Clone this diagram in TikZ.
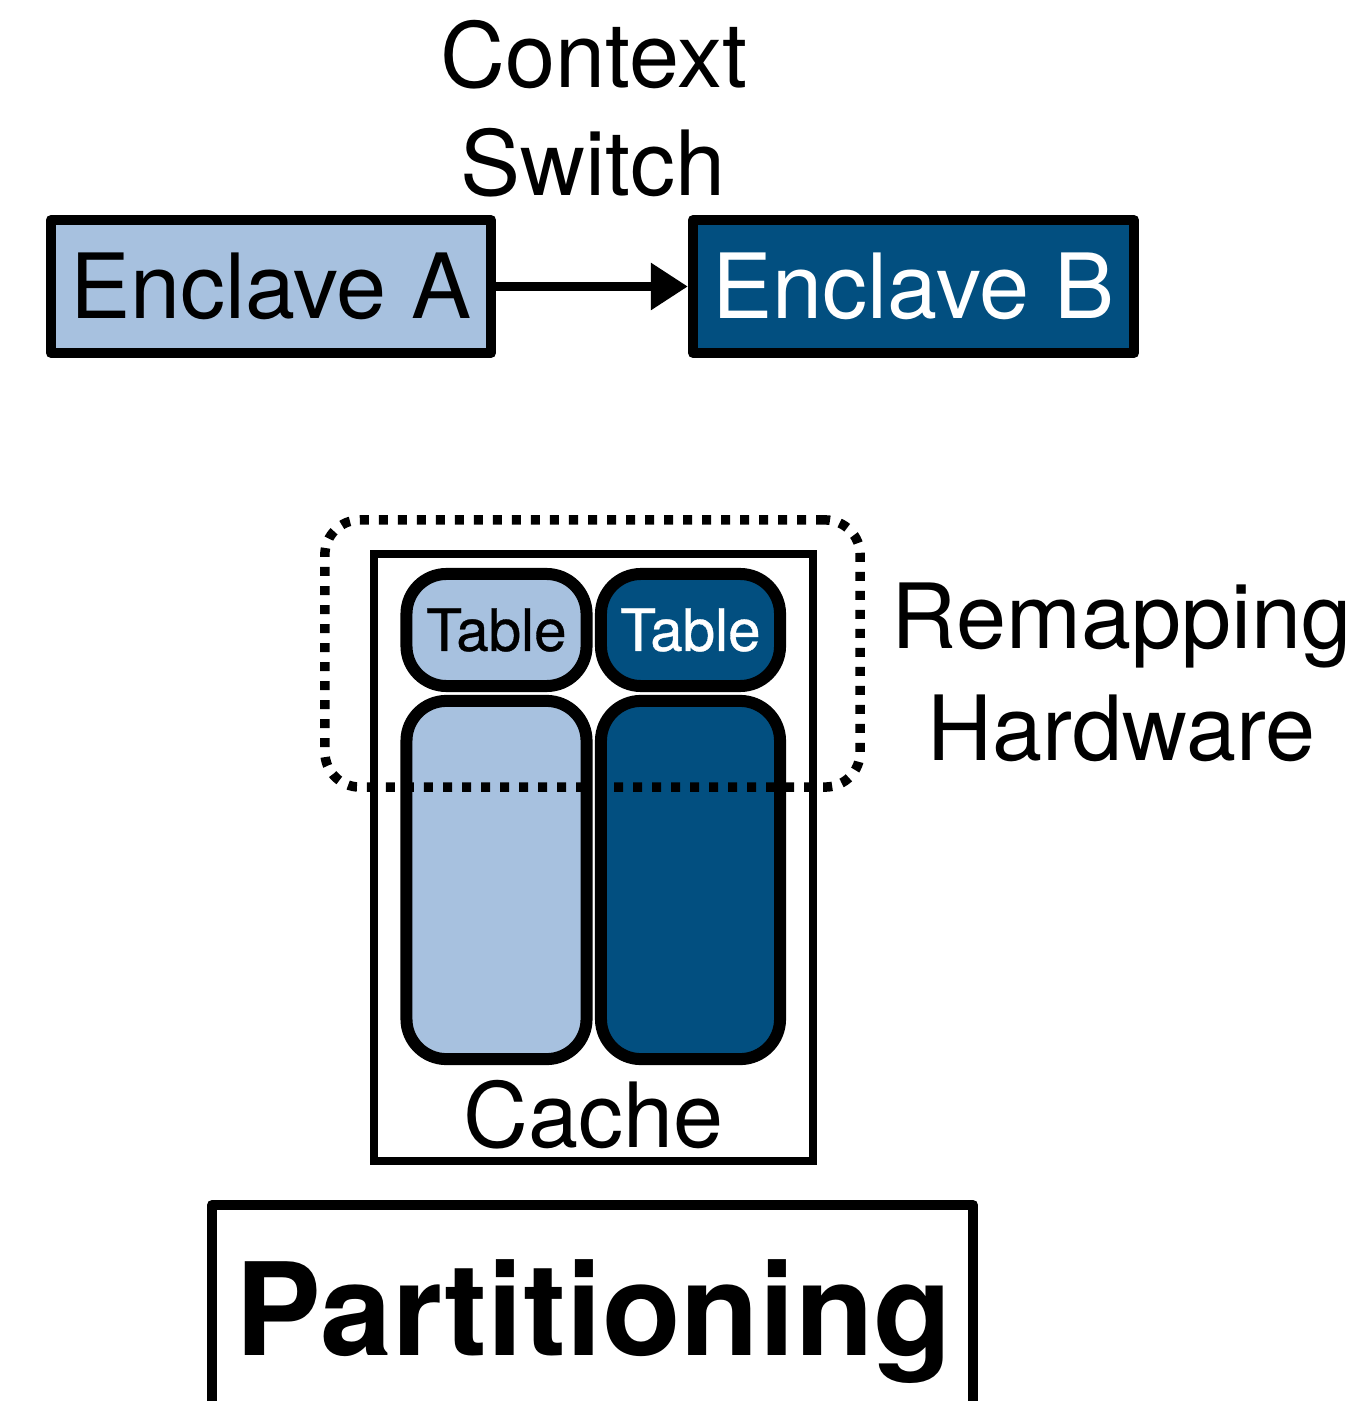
\documentclass[tikz,border=0pt]{standalone}
\usepackage{fontspec}
\setmainfont{TeX Gyre Heros}
\newfontfamily\tablefamily[FakeBold=0.6]{TeX Gyre Heros}
\usetikzlibrary{arrows.meta}
\definecolor{lightblue}{HTML}{A7C1DF}
\definecolor{darkblue}{HTML}{024F80}
\begin{document}
\begin{tikzpicture}[x=0.01cm,y=-0.01cm,
  bigfont/.style={font=\fontsize{25.6}{30.7}\selectfont},
  enclave/.style={draw=black, line width=0.1cm, line join=round, minimum width=4.4cm, minimum height=1.33cm, inner sep=0pt, bigfont},
  cell/.style={draw=black, line width=0.12cm, rounded corners=0.4cm, inner sep=0pt, minimum width=1.8cm},
  tablefont/.style={font=\tablefamily\fontsize{16.6}{19}\selectfont},
  lbl/.style={inner sep=0pt, anchor=base},
  dotbox/.style={draw=black, line width=0.095cm, dash pattern=on 0.09cm off 0.1cm, rounded corners=0.35cm, inner sep=0pt}
]
\useasboundingbox (0,0) rectangle (1369,1401);

% Enclaves
\node[enclave, fill=lightblue, text=black] (encA) at (271,286.5) {Enclave A};
\node[enclave, fill=darkblue, text=white, minimum width=4.41cm] (encB) at (913.5,286.5) {Enclave B};
\draw[line width=0.09cm, -{Triangle[length=0.37cm,width=0.45cm]}] (encA.east) -- (encB.west);
\node[lbl, bigfont] (ctx) at (594,88) {Context};
\node[lbl, bigfont] (sw) at (593,196) {Switch};

% Cache
\node[draw=black, line width=0.08cm, minimum width=4.39cm, minimum height=6.07cm, inner sep=0pt] (cache) at (593.5,857.5) {};
\node[cell, fill=lightblue, minimum height=1.12cm, tablefont, text=black] (tabA) at (496.5,630) {Table};
\node[cell, fill=darkblue, minimum height=1.12cm, minimum width=1.79cm, tablefont, text=white] (tabB) at (690.5,630) {Table};
\node[cell, fill=lightblue, minimum height=3.58cm] (memA) at (496.5,880) {};
\node[cell, fill=darkblue, minimum height=3.58cm, minimum width=1.79cm] (memB) at (690.5,880) {};
\node[lbl, bigfont] (cachelbl) at (593.5,1147) {Cache};

% Remapping hardware
\node[dotbox, minimum width=5.35cm, minimum height=2.67cm] (remap) at (592.5,653.5) {};
\node[lbl, bigfont] (rem1) at (1121.5,648) {Remapping};
\node[lbl, bigfont] (rem2) at (1121.5,760) {Hardware};

% Partitioning
\coordinate (pbl) at (212,1440);
\coordinate (ptl) at (212,1205);
\coordinate (ptr) at (973,1205);
\coordinate (pbr) at (973,1440);
\draw[line width=0.1cm, line join=round] (pbl) -- (ptl) -- (ptr) -- (pbr);
\node[lbl, font=\fontsize{36.6}{40}\selectfont\bfseries] (part) at (594,1355) {Partitioning};
\end{tikzpicture}
\end{document}
